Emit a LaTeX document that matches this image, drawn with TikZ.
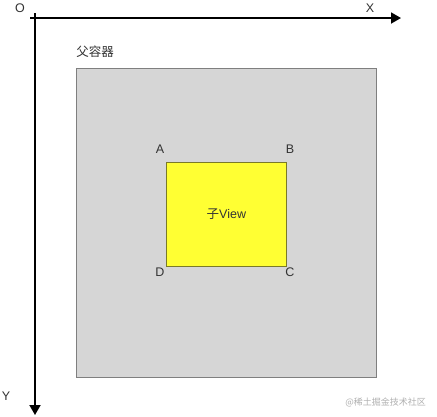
\documentclass[tikz,border=0pt]{standalone}
\usepackage{fontspec}
\setmainfont{Liberation Sans}
\newfontfamily\cjk{Noto Sans CJK SC}
\usetikzlibrary{arrows.meta}
\definecolor{pgray}{HTML}{D6D6D6}
\definecolor{pborder}{HTML}{7F7F7F}
\definecolor{cyellow}{HTML}{FFFF33}
\definecolor{cborder}{HTML}{7A7A28}
\definecolor{lbl}{HTML}{333333}
\definecolor{wm}{HTML}{B0B0B0}
\begin{document}
\begin{tikzpicture}[x=1pt,y=-1pt,
  axis/.style={line width=1.8pt,-{Triangle[length=10pt,width=11pt]}},
  lab/.style={font=\fontsize{12.5}{14}\selectfont,text=lbl,inner sep=0pt},
  parent/.style={draw=pborder,fill=pgray,line width=0.9pt},
  child/.style={draw=cborder,fill=cyellow,line width=0.8pt}]
\useasboundingbox (0,0) rectangle (437,416);
\fill[white] (0,0) rectangle (437,416);
\coordinate (o) at (35,18);
\coordinate (xs) at (30,18);
\coordinate (xe) at (401,18);
\coordinate (ys) at (35,13);
\coordinate (ye) at (35,415);
\draw[parent] (76,68) rectangle (376,377);
\node[child,minimum width=120pt,minimum height=104pt,inner sep=0pt,anchor=north west] (cv) at (166,162) {};
\node[lab,font=\cjk\fontsize{12.5}{14}\selectfont] at (cv.center) {子\fontspec{Liberation Sans}View};
\draw[axis] (xs) -- (xe);
\draw[axis] (ys) -- (ye);
\node[lab] (O) at (20,8) {O};
\node[lab] (X) at (370,8) {X};
\node[lab] (Y) at (6,396) {Y};
\node[lab,font=\cjk\fontsize{12.5}{14}\selectfont] (pl) at (95,52) {父容器};
\node[lab] (A) at (160,149) {A};
\node[lab] (B) at (290,149) {B};
\node[lab] (D) at (160,272) {D};
\node[lab] (C) at (290,272) {C};
\node[inner sep=0pt,text=wm,font=\cjk\fontsize{9}{10}\selectfont,anchor=east] (w) at (426,402) {@稀土掘金技术社区};
\end{tikzpicture}
\end{document}
